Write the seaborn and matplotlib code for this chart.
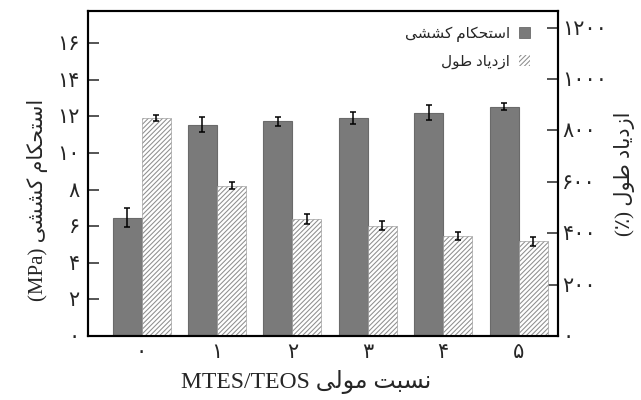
import matplotlib
matplotlib.use("Agg")
import matplotlib.pyplot as plt
from matplotlib.patches import Patch
import seaborn as sns
import pandas as pd

# ---- data -------------------------------------------------------------
ratios = ["۰", "۱", "۲", "۳", "۴", "۵"]              # MTES/TEOS molar ratio
strength = [6.47, 11.55, 11.72, 11.90, 12.19, 12.52]   # tensile strength, MPa
strength_err = [0.50, 0.41, 0.23, 0.34, 0.41, 0.20]
elongation = [847, 585, 455, 430, 390, 368]            # elongation at break, %
elongation_err = [12, 14, 18, 19, 16, 16]
left_ticks = [0, 2, 4, 6, 8, 10, 12, 14, 16]
right_ticks = [0, 200, 400, 600, 800, 1000, 1200]

# ---- minimal Persian shaping (presentation forms, visual order) -------
FORMS = {
    "ا": ("\uFE8D", "\uFE8E", None, None),
    "ب": ("\uFE8F", "\uFE90", "\uFE91", "\uFE92"),
    "ت": ("\uFE95", "\uFE96", "\uFE97", "\uFE98"),
    "ح": ("\uFEA1", "\uFEA2", "\uFEA3", "\uFEA4"),
    "د": ("\uFEA9", "\uFEAA", None, None),
    "ز": ("\uFEAF", "\uFEB0", None, None),
    "س": ("\uFEB1", "\uFEB2", "\uFEB3", "\uFEB4"),
    "ش": ("\uFEB5", "\uFEB6", "\uFEB7", "\uFEB8"),
    "ط": ("\uFEC1", "\uFEC2", "\uFEC3", "\uFEC4"),
    "ل": ("\uFEDD", "\uFEDE", "\uFEDF", "\uFEE0"),
    "م": ("\uFEE1", "\uFEE2", "\uFEE3", "\uFEE4"),
    "ن": ("\uFEE5", "\uFEE6", "\uFEE7", "\uFEE8"),
    "و": ("\uFEED", "\uFEEE", None, None),
    "ک": ("\uFB8E", "\uFB8F", "\uFB90", "\uFB91"),
    "ی": ("\uFBFC", "\uFBFD", "\uFBFE", "\uFBFF"),
}


def shape(text):
    out = []
    for i, c in enumerate(text):
        if c not in FORMS:
            out.append(c)
            continue
        prev = text[i - 1] if i > 0 else None
        nxt = text[i + 1] if i + 1 < len(text) else None
        join_prev = prev in FORMS and FORMS[prev][2] is not None
        join_next = nxt in FORMS and FORMS[c][2] is not None
        iso, fin, ini, med = FORMS[c]
        if join_prev and join_next:
            out.append(med)
        elif join_prev:
            out.append(fin)
        elif join_next:
            out.append(ini)
        else:
            out.append(iso)
    return "".join(out)


def rtl(text):
    return shape(text)[::-1]


def fa_digits(v):
    return str(v).translate(str.maketrans("0123456789", "۰۱۲۳۴۵۶۷۸۹"))


label_strength = rtl("استحکام کششی")
label_elong = rtl("ازدیاد طول")

# ---- style ------------------------------------------------------------
sns.set_style("ticks")
plt.rcParams["font.family"] = ["Liberation Serif", "DejaVu Sans"]
plt.rcParams["hatch.linewidth"] = 0.75

GRAY = "#7a7a7a"
HATCH_EDGE = "#8e8e8e"
HATCH = "///////"

fig = plt.figure(figsize=(6.41, 4.0), dpi=100)
ax = fig.add_axes([88 / 641, 1 - 336 / 400, 470 / 641, 325 / 400])
ax2 = ax.twinx()

hue_order = [label_strength, label_elong]
palette = {label_strength: GRAY, label_elong: "white"}

df_s = pd.DataFrame({"ratio": ratios, "value": strength, "series": label_strength})
df_e = pd.DataFrame({"ratio": ratios, "value": elongation, "series": label_elong})

sns.barplot(data=df_s, x="ratio", y="value", hue="series", hue_order=hue_order,
            order=ratios, palette=palette, width=0.77, dodge=True, errorbar=None,
            saturation=1, edgecolor="#6a6a6a", linewidth=0.8, legend=False, ax=ax)
sns.barplot(data=df_e, x="ratio", y="value", hue="series", hue_order=hue_order,
            order=ratios, palette=palette, width=0.77, dodge=True, errorbar=None,
            saturation=1, edgecolor=HATCH_EDGE, linewidth=0.4, hatch=HATCH,
            legend=False, ax=ax2)

# error bars placed at the centres of the drawn bars
xs_s = [p.get_x() + p.get_width() / 2 for p in ax.patches]
xs_e = [p.get_x() + p.get_width() / 2 for p in ax2.patches]
ax.errorbar(xs_s, strength, yerr=strength_err, fmt="none", ecolor="black",
            elinewidth=1.1, capsize=2.4, capthick=1.1, zorder=5)
ax2.errorbar(xs_e, elongation, yerr=elongation_err, fmt="none", ecolor="black",
             elinewidth=1.1, capsize=2.4, capthick=1.1, zorder=5)

ax.set_xlim(-0.71, 5.52)
ax.set_ylim(0, 17.75)
ax2.set_ylim(0, 1265)

ax.set_yticks(left_ticks)
ax.set_yticklabels([fa_digits(v) for v in left_ticks])
ax2.set_yticks(right_ticks)
ax2.set_yticklabels([fa_digits(v) for v in right_ticks])

for a in (ax, ax2):
    for s in a.spines.values():
        s.set_visible(True)
        s.set_linewidth(1.5)
        s.set_color("black")
ax.tick_params(axis="y", direction="in", length=8, width=1.1, pad=6, labelsize=15)
ax2.tick_params(axis="y", direction="in", length=8, width=1.1, pad=3, labelsize=15)
ax.tick_params(axis="x", length=0, pad=6, labelsize=15)

ax.set_xlabel("MTES/TEOS " + rtl("نسبت مولی"), fontsize=17)
ax.xaxis.set_label_coords(0.465, -0.105)
ax.set_ylabel("(MPa) " + label_strength, fontsize=15)
ax.yaxis.set_label_coords(-0.085, 0.42)
ax2.set_ylabel("(٪) " + label_elong, fontsize=15)
ax2.yaxis.set_label_coords(1.12, 0.5)

handles = [
    Patch(facecolor=GRAY, edgecolor="#6a6a6a", linewidth=0.6),
    Patch(facecolor="white", edgecolor=HATCH_EDGE, hatch=HATCH, linewidth=0.0),
]
ax2.legend(handles, [label_strength, label_elong], loc="upper right",
           bbox_to_anchor=(0.97, 0.995), frameon=False, markerfirst=False,
           handlelength=0.7, handleheight=0.7, handletextpad=0.6,
           labelspacing=0.85, fontsize=11)

fig.savefig("out.png", dpi=100)
